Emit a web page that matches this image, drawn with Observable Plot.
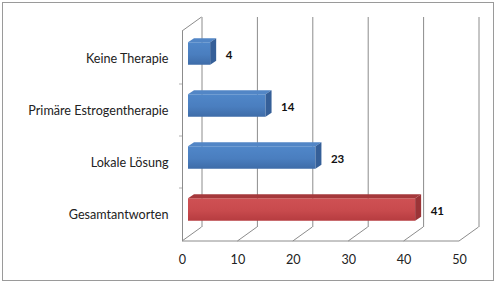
<!DOCTYPE html>
<html><head><meta charset="utf-8">
<script src="https://cdn.jsdelivr.net/npm/d3@7"></script>
<script src="https://cdn.jsdelivr.net/npm/@observablehq/plot@0.6"></script>
<style>html,body{margin:0;padding:0;background:#fff;overflow:hidden}svg{display:block}</style>
</head><body><div id="chart"></div>
<script>
// ---- data ----
const categories = ["Keine Therapie", "Primäre Estrogentherapie", "Lokale Lösung", "Gesamtantworten"];
const values = [4, 14, 23, 41];
const groups = ["Teil", "Teil", "Teil", "Gesamt"];
const xTicks = [0, 10, 20, 30, 40, 50];

const data = categories.map((c, i) => ({category: c, value: values[i], group: groups[i]}));

// ---- style constants ----
const DEPTH_X = 19.5, DEPTH_Y = -14;          // depth of the 3D box
const BAR_DX = 6, BAR_DY = -4.5, BAR_INSET = 14.75;
const BAR_DEPTH_X = 6, BAR_DEPTH_Y = -4;
const faceColors = {
  Teil: {top: "#5286c6", side: "#355f98"},
  Gesamt: {top: "#a5383b", side: "#9b3437"}
};

function walls(index, scales, values, dims) {
  const x = scales.x;
  const {width, height, marginTop, marginBottom} = dims;
  const yb = height - marginBottom, yt = marginTop;
  const g = d3.create("svg:g");
  const defs = g.append("defs");
  const gb = defs.append("linearGradient").attr("id", "gradBlue").attr("x1", 0).attr("y1", 0).attr("x2", 0).attr("y2", 1);
  gb.append("stop").attr("offset", "0%").attr("stop-color", "#5087c9");
  gb.append("stop").attr("offset", "55%").attr("stop-color", "#4a7ebf");
  gb.append("stop").attr("offset", "100%").attr("stop-color", "#3e6ca8");
  const gr = defs.append("linearGradient").attr("id", "gradRed").attr("x1", 0).attr("y1", 0).attr("x2", 0).attr("y2", 1);
  gr.append("stop").attr("offset", "0%").attr("stop-color", "#cf5154");
  gr.append("stop").attr("offset", "55%").attr("stop-color", "#c84a4d");
  gr.append("stop").attr("offset", "100%").attr("stop-color", "#b63c40");
  // outer border
  g.append("rect").attr("x", 2.5).attr("y", 2.5).attr("width", width - 5).attr("height", height - 5)
    .attr("fill", "none").attr("stroke", "#9a9a9a");
  const l = g.append("g").attr("stroke", "#8c8c8c").attr("fill", "none");
  const xmax = xTicks[xTicks.length - 1];
  for (const t of xTicks) {
    l.append("line").attr("x1", x(t)).attr("y1", yb).attr("x2", x(t) + DEPTH_X).attr("y2", yb + DEPTH_Y);
  }
  l.append("line").attr("x1", x(0)).attr("x2", x(xmax)).attr("y1", yb).attr("y2", yb);
  l.append("line").attr("x1", x(0)).attr("y1", yt).attr("x2", x(0) + DEPTH_X).attr("y2", yt + DEPTH_Y);
  const y = scales.y;
  categories.slice(1).forEach(c => {
    l.append("line").attr("x1", x(0) - 3).attr("x2", x(0)).attr("y1", y(c)).attr("y2", y(c)).attr("stroke", "#b0b0b0");
  });
  return g.node();
}

function barFaces(index, scales) {
  const {x, y} = scales;
  const bw = y.bandwidth();
  const g = d3.create("svg:g");
  data.forEach(d => {
    const x0 = x(0) + BAR_DX, x1 = x(d.value) + BAR_DX;
    const y0 = y(d.category) + BAR_INSET + BAR_DY, y1 = y(d.category) + bw - BAR_INSET + BAR_DY;
    const c = faceColors[d.group];
    g.append("path").attr("fill", c.top)
      .attr("d", `M${x0},${y0}L${x0 + BAR_DEPTH_X},${y0 + BAR_DEPTH_Y}L${x1 + BAR_DEPTH_X},${y0 + BAR_DEPTH_Y}L${x1},${y0}Z`);
    g.append("path").attr("fill", c.side)
      .attr("d", `M${x1},${y0}L${x1 + BAR_DEPTH_X},${y0 + BAR_DEPTH_Y}L${x1 + BAR_DEPTH_X},${y1 + BAR_DEPTH_Y}L${x1},${y1}Z`);
  });
  return g.node();
}

const chart = Plot.plot({
  width: 496,
  height: 283,
  marginLeft: 182,
  marginRight: 37,
  marginTop: 31,
  marginBottom: 42,
  style: {fontFamily: "Lato", fontSize: "12.6px", color: "#222", background: "#fff"},
  x: {domain: [0, 50], ticks: xTicks, tickSize: 0, tickPadding: 14, label: null},
  y: {domain: categories, padding: 0, tickSize: 0, tickPadding: 14, label: null},
  color: {domain: ["Teil", "Gesamt"], range: ["url(#gradBlue)", "url(#gradRed)"]},
  marks: [
    walls,
    Plot.ruleX(xTicks, {x: d => d, dx: DEPTH_X, dy: DEPTH_Y, stroke: "#8c8c8c", strokeOpacity: 1}),
    Plot.ruleX([0], {stroke: "#8c8c8c", strokeOpacity: 1}),
    Plot.barX(data, {x: "value", y: "category", fill: "group", dx: BAR_DX, dy: BAR_DY, insetTop: BAR_INSET, insetBottom: BAR_INSET}),
    barFaces,
    Plot.text(data, {x: "value", y: "category", text: d => String(d.value), dx: 21, dy: -3, textAnchor: "start", fontWeight: "bold", fontSize: 11.5, fill: "#111"})
  ]
});
document.getElementById("chart").append(chart);
</script>
</body></html>
